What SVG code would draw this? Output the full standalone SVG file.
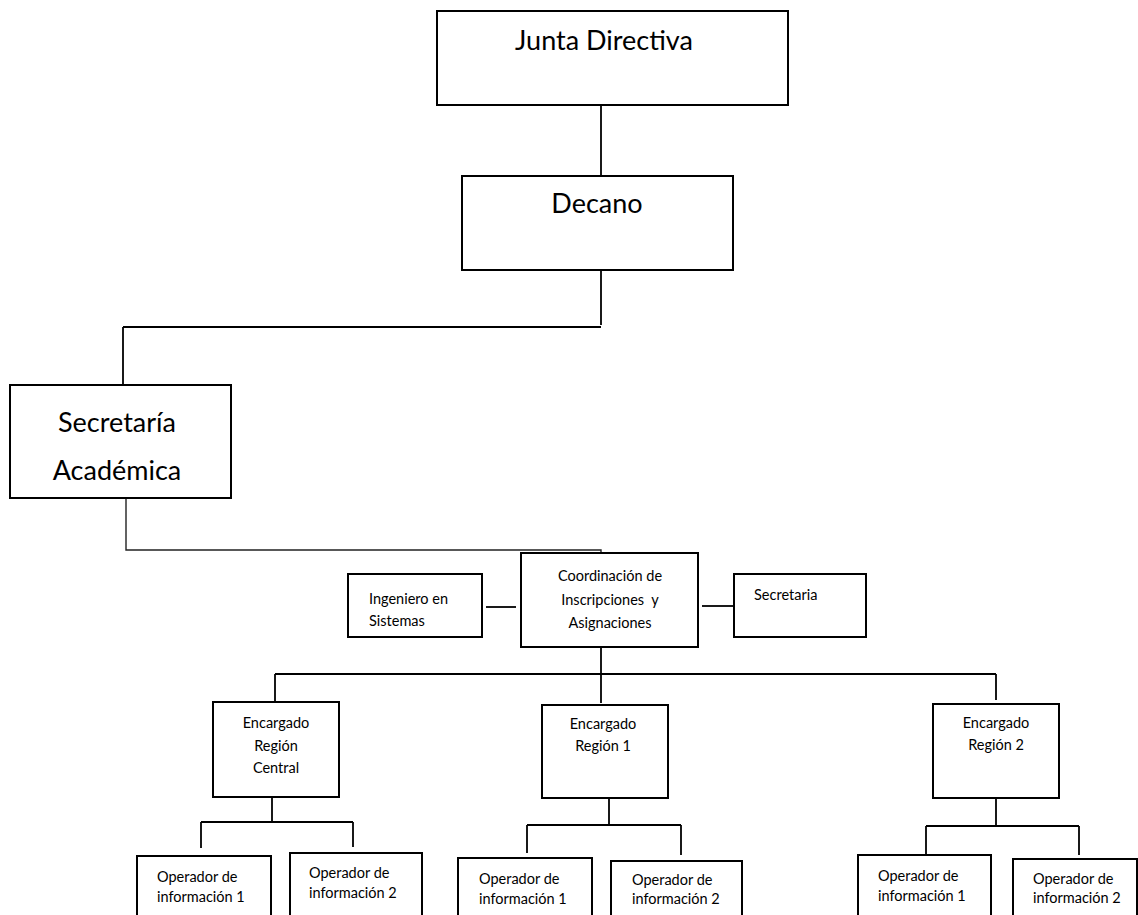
<svg xmlns="http://www.w3.org/2000/svg" width="1138" height="915" viewBox="0 0 1138 915">
<style>
  .box { fill: #ffffff; stroke: #000000; stroke-width: 2; }
  .ln { fill: none; stroke: #000000; stroke-width: 1.8; }
  .thin { fill: none; stroke: #222222; stroke-width: 1.4; }
  .big { font-family: Lato, "Open Sans", sans-serif; font-size: 27px; fill: #000000; text-anchor: middle; }
  .sm { font-family: Lato, "Open Sans", sans-serif; font-size: 14.5px; fill: #000000; }
  .c { text-anchor: middle; }
</style>
<rect x="0" y="0" width="1138" height="915" fill="#ffffff"/>
<g id="connectors">
  <path class="ln" d="M601 105 V176"/>
  <path class="ln" d="M601 270 V325"/>
  <path class="ln" d="M123 327 H601"/>
  <path class="ln" d="M123 327 V385"/>
  <path class="thin" d="M126 496 V550 H601 V553"/>
  <path class="ln" d="M486 607 H516"/>
  <path class="ln" d="M702 606 H733"/>
  <path class="ln" d="M601 647 V703"/>
  <path class="ln" d="M275 674 H996"/>
  <path class="ln" d="M275 674 V702"/>
  <path class="ln" d="M996 674 V700"/>
  <path class="ln" d="M272 797 V822"/>
  <path class="ln" d="M201 822 H353"/>
  <path class="ln" d="M201 822 V848"/>
  <path class="ln" d="M353 822 V847"/>
  <path class="ln" d="M609 798 V825"/>
  <path class="ln" d="M527 825 H681"/>
  <path class="ln" d="M527 825 V853"/>
  <path class="ln" d="M681 825 V855"/>
  <path class="ln" d="M996 798 V826"/>
  <path class="ln" d="M926 826 H1079"/>
  <path class="ln" d="M926 826 V854"/>
  <path class="ln" d="M1079 826 V855"/>
</g>
<g id="junta">
  <rect class="box" x="437" y="11" width="351" height="94"/>
  <text class="big" x="604" y="50">Junta Directiva</text>
</g>
<g id="decano">
  <rect class="box" x="462" y="176" width="271" height="94"/>
  <text class="big" x="597" y="213">Decano</text>
</g>
<g id="secretaria-academica">
  <rect class="box" x="10" y="385" width="221" height="113"/>
  <text class="big" x="117" y="432">Secretaría</text>
  <text class="big" x="117" y="480">Académica</text>
</g>
<g id="ingeniero">
  <rect class="box" x="348" y="574" width="134" height="63"/>
  <text class="sm" x="369" y="604">Ingeniero en</text>
  <text class="sm" x="369" y="626">Sistemas</text>
</g>
<g id="coordinacion">
  <rect class="box" x="521" y="553" width="177" height="94"/>
  <text class="sm c" x="610" y="581">Coordinación de</text>
  <text class="sm c" x="610" y="605" xml:space="preserve">Inscripciones  y</text>
  <text class="sm c" x="610" y="628">Asignaciones</text>
</g>
<g id="secretaria">
  <rect class="box" x="734" y="574" width="132" height="63"/>
  <text class="sm" x="754" y="600">Secretaria</text>
</g>
<g id="encargado-central">
  <rect class="box" x="213" y="702" width="126" height="95"/>
  <text class="sm c" x="276" y="728">Encargado</text>
  <text class="sm c" x="276" y="751">Región</text>
  <text class="sm c" x="276" y="773">Central</text>
</g>
<g id="encargado-region-1">
  <rect class="box" x="542" y="705" width="126" height="93"/>
  <text class="sm c" x="603" y="729">Encargado</text>
  <text class="sm c" x="603" y="751">Región 1</text>
</g>
<g id="encargado-region-2">
  <rect class="box" x="933" y="704" width="126" height="94"/>
  <text class="sm c" x="996" y="728">Encargado</text>
  <text class="sm c" x="996" y="750">Región 2</text>
</g>
<g id="central-op1">
  <rect class="box" x="137" y="856" width="134" height="80"/>
  <text class="sm" x="157" y="882">Operador de</text>
  <text class="sm" x="157" y="902">información 1</text>
</g>
<g id="central-op2">
  <rect class="box" x="290" y="853" width="132" height="80"/>
  <text class="sm" x="309" y="878">Operador de</text>
  <text class="sm" x="309" y="898">información 2</text>
</g>
<g id="region1-op1">
  <rect class="box" x="458" y="858" width="134" height="80"/>
  <text class="sm" x="479" y="884">Operador de</text>
  <text class="sm" x="479" y="904">información 1</text>
</g>
<g id="region1-op2">
  <rect class="box" x="611" y="861" width="131" height="80"/>
  <text class="sm" x="632" y="885">Operador de</text>
  <text class="sm" x="632" y="904">información 2</text>
</g>
<g id="region2-op1">
  <rect class="box" x="858" y="855" width="133" height="80"/>
  <text class="sm" x="878" y="881">Operador de</text>
  <text class="sm" x="878" y="901">información 1</text>
</g>
<g id="region2-op2">
  <rect class="box" x="1013" y="859" width="124" height="80"/>
  <text class="sm" x="1033" y="884">Operador de</text>
  <text class="sm" x="1033" y="903">información 2</text>
</g>
</svg>
